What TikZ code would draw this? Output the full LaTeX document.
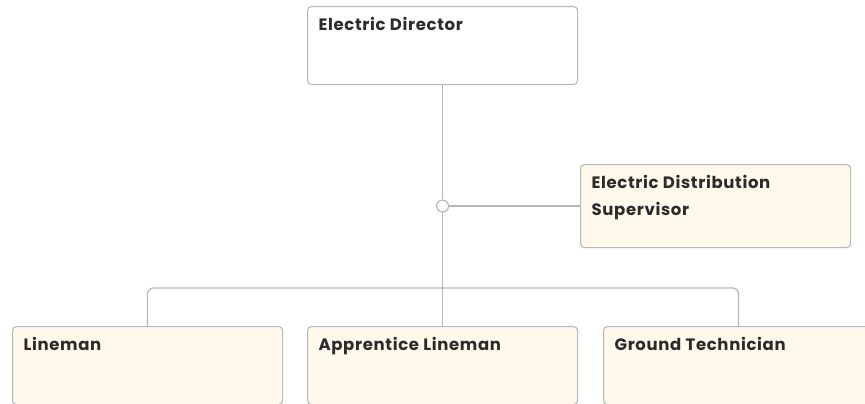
\documentclass[tikz,border=0pt]{standalone}
\usepackage{fontspec}
\setmainfont{Poppins}[LetterSpace=4]
\usepackage{tikz}

\definecolor{edge}{HTML}{B8B8B8}
\definecolor{cream}{HTML}{FFF9EC}
\definecolor{ink}{HTML}{2B2B2B}

\tikzset{
  role/.style={draw=edge,shape=rectangle,rounded corners=4pt,line width=1.1pt,
    inner sep=11pt,anchor=north west,text=ink,
    font=\fontsize{16.5}{27}\selectfont\bfseries},
  staff/.style={role,fill=cream},
  wire/.style={draw=edge,line width=1.2pt}
}

% fixed size text box, text at the top left
\newcommand{\rolebox}[2][56pt]{\parbox[t][#1][t]{248pt}{#2}}

\begin{document}
\begin{tikzpicture}[x=1pt,y=-1pt]
   \useasboundingbox (0,0) rectangle (865,404);
   \clip (0,0) rectangle (865,404);

   \path (307,6) node[role] (D) {\rolebox{Electric Director}};
   \path (580,164) node[staff] (S) {\rolebox[61pt]{Electric Distribution\\Supervisor}};

   \path (12,326) node[staff] (L) {\rolebox{Lineman}};
   \path (307,326) node[staff] (A) {\rolebox{Apprentice Lineman}};
   \path (603,326) node[staff] (G) {\rolebox{Ground Technician}};

   \path (D.south |- S.west) node[wire,shape=circle,fill=white,
     minimum size=12pt,inner sep=0pt] (hub) {};

   \draw[wire] (D.south) -- (hub.north);
   \draw[wire] (hub.east) -- (S.west);
   \draw[wire] (hub.south) -- (A.north);
   \draw[wire,rounded corners=6pt] (L.north) -- ++(0,-38) -| (G.north);
\end{tikzpicture}
\end{document}
